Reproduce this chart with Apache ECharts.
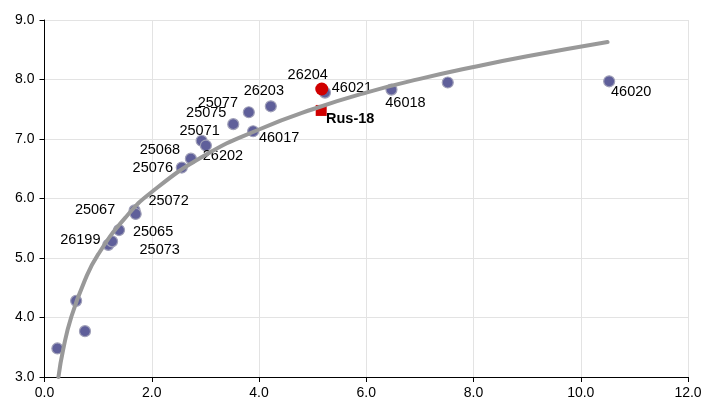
<!DOCTYPE html>
<html><head><meta charset="utf-8">
<script src="https://cdn.jsdelivr.net/npm/echarts@6/dist/echarts.min.js"></script>
<style>html,body{margin:0;padding:0;background:#fff}#c{width:705px;height:407px}</style>
</head><body><div id="c"></div>
<script>
// Sample points (blue)
const sampleNames = ['', '', '', '26199', '25067', '25065', '25072', '25073', '25076', '25068', '25071', '26202', '25075', '25077', '46017', '26203', '46021', '46018', '', '46020'];
const sampleX = [0.24, 0.59, 0.755, 1.19, 1.26, 1.39, 1.68, 1.70, 2.56, 2.73, 2.93, 3.01, 3.52, 3.81, 3.89, 4.22, 5.23, 6.47, 7.52, 10.53];
const sampleY = [3.48, 4.28, 3.77, 5.22, 5.28, 5.47, 5.80, 5.74, 6.52, 6.67, 6.97, 6.89, 7.25, 7.45, 7.13, 7.55, 7.78, 7.83, 7.95, 7.97];
// Highlighted points
const redCircleName = '26204';
const redCircle = [5.17, 7.84];
const redSquareName = 'Rus-18';
const redSquare = [5.16, 7.48];
// Trend curve
const curveX = [0.26, 0.35, 0.5, 0.75, 1.0, 1.5, 2.0, 3.0, 4.0, 5.0, 6.0, 7.0, 8.0, 9.0, 10.5];
const curveY = [3.00, 3.47, 4.01, 4.62, 5.06, 5.67, 6.11, 6.73, 7.16, 7.50, 7.78, 8.01, 8.21, 8.39, 8.63];
// Axis ticks
const xTicks = [0, 2, 4, 6, 8, 10, 12];
const yTicks = [3, 4, 5, 6, 7, 8, 9];

// label placement (styling)
const labelOffsets = {
  '26199': [-28, -5], '25067': [-17, -31], '25065': [34, 2], '25072': [34, -9], '25073': [24, 36],
  '25076': [-29, 0], '25068': [-31, -9], '25071': [-2, -10], '26202': [17, 10], '25075': [-27, -11],
  '25077': [-31, -9], '46017': [26, 7], '26203': [-7, -15], '46021': [27, -5], '46018': [14, 13],
  '46020': [22, 11], '26204': [-14, -14], 'Rus-18': [29, 9]
};
const FONT = 'Liberation Sans, Arial, sans-serif';
function lbl(name, bold) {
  if (!name) return { show: false };
  return { show: true, position: 'inside', offset: labelOffsets[name], formatter: name,
    color: '#000', fontSize: 14.5, fontFamily: FONT, fontWeight: bold ? 'bold' : 'normal' };
}
const blueData = sampleX.map((x, i) => ({ value: [x, sampleY[i]], name: sampleNames[i], label: lbl(sampleNames[i]) }));
const curveData = curveX.map((x, i) => [x, curveY[i]]);

const chart = echarts.init(document.getElementById('c'));
chart.setOption({
  animation: false,
  grid: { left: 44.5, right: 17, top: 20, bottom: 30 },
  xAxis: {
    type: 'value', min: xTicks[0], max: xTicks[xTicks.length - 1], interval: 2,
    axisLine: { onZero: false, lineStyle: { color: '#000', width: 1 } },
    axisTick: { show: true, length: 5, lineStyle: { color: '#000' } },
    axisLabel: { color: '#000', fontSize: 14, fontFamily: FONT, margin: 9, formatter: v => v.toFixed(1) },
    splitLine: { show: true, lineStyle: { color: '#e3e3e3', width: 1 } }
  },
  yAxis: {
    type: 'value', min: yTicks[0], max: yTicks[yTicks.length - 1], interval: 1,
    axisLine: { show: true, onZero: false, lineStyle: { color: '#000', width: 1 } },
    axisTick: { show: true, length: 5, lineStyle: { color: '#000' } },
    axisLabel: { color: '#000', fontSize: 14, fontFamily: FONT, margin: 10, formatter: v => v.toFixed(1) },
    splitLine: { show: true, lineStyle: { color: '#e3e3e3', width: 1 } }
  },
  series: [
    { type: 'scatter', data: blueData, symbol: 'circle', symbolSize: 11, z: 2,
      itemStyle: { color: '#5f5f9a', borderColor: '#a0a0b8', borderWidth: 1.2, opacity: 1 } },
    { type: 'scatter', data: [{ value: redCircle, label: lbl(redCircleName) }], symbol: 'circle', symbolSize: 13, z: 3,
      itemStyle: { color: '#d00000', opacity: 1 } },
    { type: 'scatter', data: [{ value: redSquare, label: lbl(redSquareName, true) }], symbol: 'rect', symbolSize: 11, z: 3,
      itemStyle: { color: '#d00000', opacity: 1 } },
    { type: 'line', data: curveData, smooth: true, showSymbol: false, z: 4,
      lineStyle: { color: '#999999', width: 4, cap: 'round' } }
  ]
});
</script></body></html>
